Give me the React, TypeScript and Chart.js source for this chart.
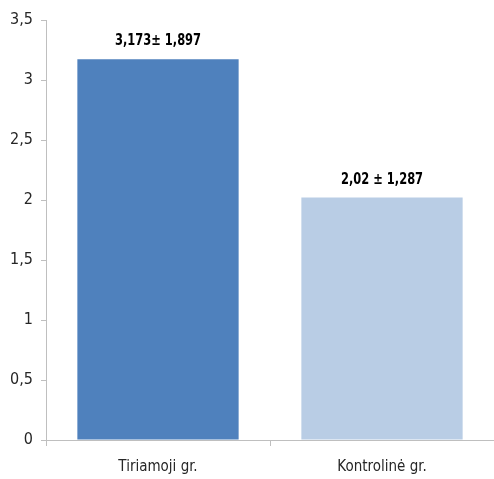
import React, { useEffect, useRef } from "react";
import { Chart, registerables } from "chart.js";

Chart.register(...registerables);

const categories = ["Tiriamoji gr.", "Kontrolinė gr."];
const means = [3.173, 2.02];
const valueLabels = ["3,173± 1,897", "2,02 ± 1,287"];
const barColors = ["#4f81bd", "#b9cde5"];
const yTicks = [0, 0.5, 1, 1.5, 2, 2.5, 3, 3.5];

const FONT = "'Liberation Sans Narrow', 'DejaVu Sans Condensed', sans-serif";

// Bold value labels above each bar, slightly compressed horizontally
const valueLabelPlugin = {
  id: "valueLabels",
  afterDatasetsDraw(chart: any) {
    const ctx = chart.ctx;
    const meta = chart.getDatasetMeta(0);
    meta.data.forEach((bar: any, i: number) => {
      ctx.save();
      ctx.font = `bold 15px ${FONT}`;
      ctx.fillStyle = "#000000";
      ctx.textAlign = "center";
      ctx.textBaseline = "alphabetic";
      ctx.translate(bar.x, bar.y - 14);
      ctx.scale(0.85, 1);
      ctx.fillText(valueLabels[i], 0, 0);
      ctx.restore();
    });
  },
};

export default function App() {
  const canvasRef = useRef<HTMLCanvasElement>(null);

  useEffect(() => {
    if (!canvasRef.current) return;
    const chart = new Chart(canvasRef.current, {
      type: "bar",
      data: {
        labels: categories,
        datasets: [
          {
            data: means,
            backgroundColor: barColors,
            borderWidth: 0,
            barPercentage: 0.72,
            categoryPercentage: 1,
          },
        ],
      },
      options: {
        animation: false,
        responsive: false,
        maintainAspectRatio: false,
        layout: { padding: { top: 20, right: 0, left: 0, bottom: 0 } },
        plugins: {
          legend: { display: false },
          tooltip: { enabled: false },
        },
        scales: {
          x: {
            grid: {
              drawOnChartArea: false,
              drawTicks: true,
              tickLength: 6,
              color: "#bfbfbf",
              offset: true,
            },
            border: { display: true, color: "#bfbfbf", width: 1 },
            ticks: {
              color: "#262626",
              font: { family: FONT, size: 15 },
              padding: 12,
            },
            afterFit(scale: any) {
              scale.height = 39;
            },
          },
          y: {
            min: 0,
            max: 3.5,
            afterBuildTicks(scale: any) {
              scale.ticks = yTicks.map((v) => ({ value: v }));
            },
            grid: {
              drawOnChartArea: false,
              drawTicks: true,
              tickLength: 5,
              color: "#bfbfbf",
            },
            border: { display: true, color: "#bfbfbf", width: 1 },
            ticks: {
              color: "#262626",
              font: { family: FONT, size: 16 },
              padding: 8,
              callback: (v: any) => String(v).replace(".", ","),
            },
            afterFit(scale: any) {
              scale.width = 46;
            },
          },
        },
      },
      plugins: [valueLabelPlugin],
    });
    return () => chart.destroy();
  }, []);

  return (
    <div style={{ position: "fixed", left: 0, top: 0, width: 494, height: 479, background: "#ffffff" }}>
      <canvas ref={canvasRef} width={494} height={479} />
    </div>
  );
}
